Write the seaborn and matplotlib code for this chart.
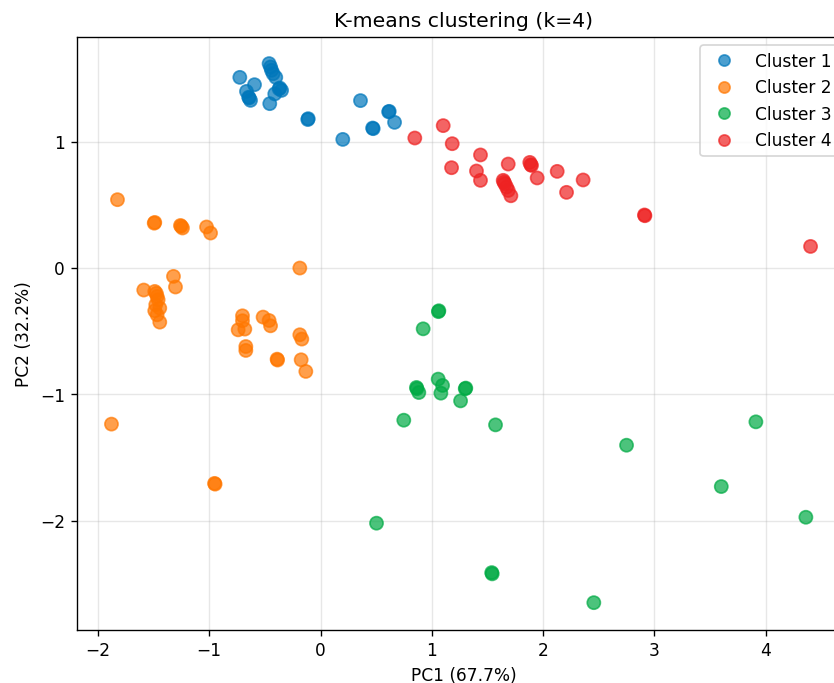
import numpy as np
import pandas as pd
import matplotlib
matplotlib.use("Agg")
import matplotlib.pyplot as plt
import seaborn as sns

# ---- data ----
c1_x = [-0.725, -0.462, -0.449, -0.440, -0.426, -0.402, -0.593, -0.665, -0.641, -0.645,
        -0.629, -0.411, -0.366, -0.372, -0.350, -0.456, -0.111, -0.114, 0.359, 0.617,
        0.612, 0.665, 0.473, 0.468, 0.200]
c1_y = [1.509, 1.618, 1.591, 1.565, 1.538, 1.509, 1.451, 1.398, 1.346, 1.352,
        1.327, 1.378, 1.425, 1.418, 1.406, 1.301, 1.182, 1.175, 1.325, 1.240,
        1.236, 1.153, 1.103, 1.108, 1.018]

c2_x = [-1.824, -1.489, -1.494, -1.258, -1.252, -1.240, -1.024, -0.988, -1.321, -1.303,
        -1.588, -1.489, -1.468, -1.459, -1.480, -1.444, -1.489, -1.468, -1.444, -1.475,
        -0.186, -0.701, -0.701, -0.740, -0.680, -0.516, -0.462, -0.449, -0.671, -0.671,
        -0.390, -0.386, -0.186, -0.168, -0.174, -0.132, -1.878, -0.947, -0.952]
c2_y = [0.541, 0.361, 0.355, 0.337, 0.330, 0.317, 0.325, 0.277, -0.066, -0.150,
        -0.174, -0.185, -0.225, -0.251, -0.290, -0.317, -0.338, -0.370, -0.428, -0.200,
        0.000, -0.378, -0.417, -0.489, -0.483, -0.388, -0.415, -0.457, -0.621, -0.652,
        -0.721, -0.728, -0.528, -0.562, -0.726, -0.818, -1.235, -1.710, -1.704]

c3_x = [1.063, 1.059, 0.922, 1.057, 1.096, 0.862, 0.866, 0.883, 1.081, 1.305,
        1.300, 1.258, 0.748, 1.572, 0.503, 1.542, 1.538, 2.455, 2.749, 3.911,
        3.600, 4.360]
c3_y = [-0.338, -0.345, -0.481, -0.879, -0.929, -0.945, -0.955, -0.985, -0.990, -0.950,
        -0.955, -1.051, -1.204, -1.241, -2.019, -2.420, -2.410, -2.648, -1.402, -1.217,
        -1.729, -1.972]

c4_x = [1.102, 0.847, 1.183, 1.437, 1.177, 1.401, 1.437, 1.686, 1.880, 1.889,
        1.895, 1.946, 2.126, 2.359, 2.210, 1.641, 1.656, 1.671, 1.686, 1.710,
        1.648, 2.914, 2.910, 4.402]
c4_y = [1.127, 1.029, 0.984, 0.895, 0.794, 0.768, 0.694, 0.823, 0.836, 0.818,
        0.812, 0.713, 0.765, 0.697, 0.599, 0.694, 0.667, 0.641, 0.614, 0.572,
        0.680, 0.414, 0.420, 0.171]

cluster_names = ["Cluster 1", "Cluster 2", "Cluster 3", "Cluster 4"]
cluster_colors = ["#0077BB", "#FF7700", "#00AA44", "#EE2222"]

title = "K-means clustering (k=4)"
xlabel = "PC1 (67.7%)"
ylabel = "PC2 (32.2%)"

# ---- build table ----
frames = []
for name, xs, ys in zip(cluster_names, [c1_x, c2_x, c3_x, c4_x], [c1_y, c2_y, c3_y, c4_y]):
    frames.append(pd.DataFrame({"PC1": xs, "PC2": ys, "cluster": name}))
df = pd.concat(frames, ignore_index=True)

DPI = 122
W, H = 834, 683
fig = plt.figure(figsize=((W + 0.4) / DPI, (H + 0.4) / DPI), dpi=DPI)
ax = fig.add_axes([76.7 / W, 1 - 630 / H, (850 - 76.7) / W, (630 - 37.3) / H])

sns.scatterplot(data=df, x="PC1", y="PC2", hue="cluster", hue_order=cluster_names,
                palette=dict(zip(cluster_names, cluster_colors)),
                s=60, alpha=0.7, edgecolor="face", linewidth=1.0, ax=ax)

ax.set_xlim(-2.19, 4.76)
ax.set_ylim(-2.864, 1.829)
ax.set_xticks([-2, -1, 0, 1, 2, 3, 4])
ax.set_yticks([-2, -1, 0, 1])
ax.grid(True, alpha=0.3)
ax.set_axisbelow(True)
ax.spines["right"].set_visible(False)
ax.set_title(title)
ax.set_xlabel(xlabel)
ax.set_ylabel(ylabel)

handles, labels = ax.get_legend_handles_labels()
ax.legend(handles, labels, loc="upper right", markerscale=0.85,
          bbox_to_anchor=(1.0 - 4.0 / (850 - 76.7), 1.0))

fig.savefig("out.png", dpi=DPI)
